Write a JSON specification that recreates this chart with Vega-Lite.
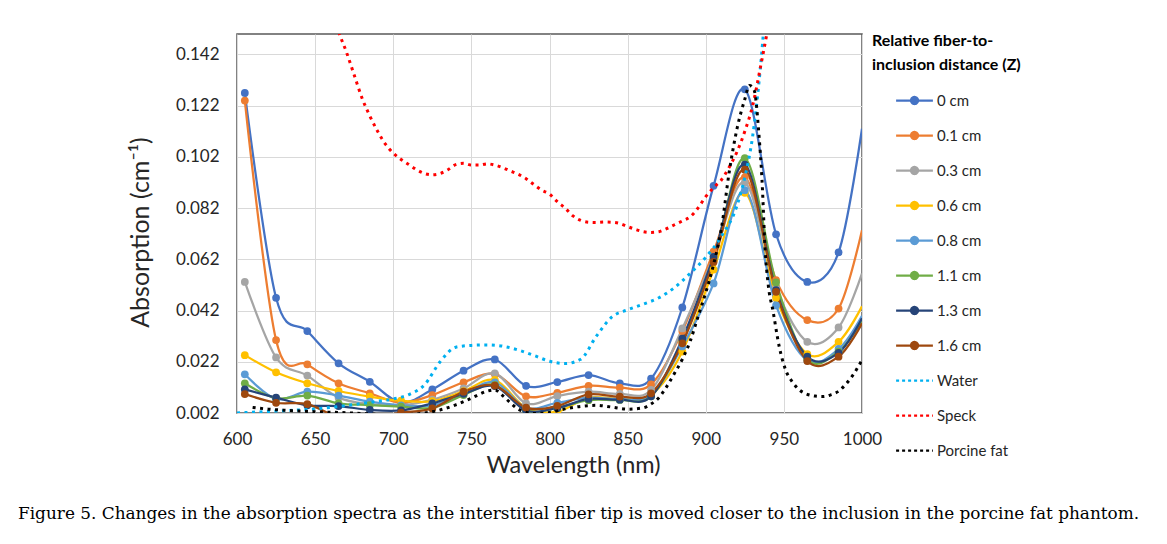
{
  "$schema": "https://vega.github.io/schema/vega-lite/v6.json",
  "width": 625,
  "height": 379,
  "autosize": {"type": "none"},
  "padding": {"left": 237, "top": 34, "right": 305, "bottom": 131},
  "background": "white",
  "config": {
    "view": {"stroke": "#595959", "strokeWidth": 1.5},
    "axis": {
      "labelFont": "Lato", "labelFontSize": 17, "labelColor": "#262626",
      "titleFont": "Lato", "titleFontSize": 23.5, "titleFontWeight": "normal", "titleColor": "#262626",
      "gridColor": "#D9D9D9", "gridWidth": 1, "domain": false, "ticks": false, "tickSize": 0, "labelFlush": false
    }
  },
  "title": {
    "text": "Figure 5. Changes in the absorption spectra as the interstitial fiber tip is moved closer to the inclusion in the porcine fat phantom.",
    "orient": "bottom", "anchor": "start", "frame": "group", "dx": -219, "offset": 29,
    "font": "DejaVu Serif", "fontSize": 16.9, "fontWeight": "normal", "color": "#000000"
  },
  "data": {"values": [
    {"s":"0 cm","w":605,"a":0.127},{"s":"0 cm","w":625,"a":0.047},{"s":"0 cm","w":645,"a":0.034},{"s":"0 cm","w":665,"a":0.0214},{"s":"0 cm","w":685,"a":0.0142},{"s":"0 cm","w":705,"a":0.006},{"s":"0 cm","w":725,"a":0.0112},{"s":"0 cm","w":745,"a":0.0185},{"s":"0 cm","w":765,"a":0.0229},{"s":"0 cm","w":785,"a":0.0126},{"s":"0 cm","w":805,"a":0.0141},{"s":"0 cm","w":825,"a":0.0168},{"s":"0 cm","w":845,"a":0.0136},{"s":"0 cm","w":865,"a":0.0154},{"s":"0 cm","w":885,"a":0.0432},{"s":"0 cm","w":905,"a":0.0907},{"s":"0 cm","w":925,"a":0.1284},{"s":"0 cm","w":945,"a":0.0718},{"s":"0 cm","w":965,"a":0.0532},{"s":"0 cm","w":985,"a":0.0647},{"s":"0 cm","w":1000,"a":0.113},
    {"s":"0.1 cm","w":605,"a":0.124},{"s":"0.1 cm","w":625,"a":0.0305},{"s":"0.1 cm","w":645,"a":0.021},{"s":"0.1 cm","w":665,"a":0.0136},{"s":"0.1 cm","w":685,"a":0.0097},{"s":"0.1 cm","w":705,"a":0.006},{"s":"0.1 cm","w":725,"a":0.009},{"s":"0.1 cm","w":745,"a":0.014},{"s":"0.1 cm","w":765,"a":0.0172},{"s":"0.1 cm","w":785,"a":0.0085},{"s":"0.1 cm","w":805,"a":0.0099},{"s":"0.1 cm","w":825,"a":0.0126},{"s":"0.1 cm","w":845,"a":0.0119},{"s":"0.1 cm","w":865,"a":0.0132},{"s":"0.1 cm","w":885,"a":0.034},{"s":"0.1 cm","w":905,"a":0.065},{"s":"0.1 cm","w":925,"a":0.094},{"s":"0.1 cm","w":945,"a":0.0539},{"s":"0.1 cm","w":965,"a":0.0383},{"s":"0.1 cm","w":985,"a":0.0428},{"s":"0.1 cm","w":1000,"a":0.0734},
    {"s":"0.3 cm","w":605,"a":0.0532},{"s":"0.3 cm","w":625,"a":0.0237},{"s":"0.3 cm","w":645,"a":0.0166},{"s":"0.3 cm","w":665,"a":0.008},{"s":"0.3 cm","w":685,"a":0.0055},{"s":"0.3 cm","w":705,"a":0.005},{"s":"0.3 cm","w":725,"a":0.0072},{"s":"0.3 cm","w":745,"a":0.0116},{"s":"0.3 cm","w":765,"a":0.0175},{"s":"0.3 cm","w":785,"a":0.0058},{"s":"0.3 cm","w":805,"a":0.0086},{"s":"0.3 cm","w":825,"a":0.0103},{"s":"0.3 cm","w":845,"a":0.0095},{"s":"0.3 cm","w":865,"a":0.011},{"s":"0.3 cm","w":885,"a":0.035},{"s":"0.3 cm","w":905,"a":0.063},{"s":"0.3 cm","w":925,"a":0.092},{"s":"0.3 cm","w":945,"a":0.051},{"s":"0.3 cm","w":965,"a":0.0298},{"s":"0.3 cm","w":985,"a":0.0354},{"s":"0.3 cm","w":1000,"a":0.0565},
    {"s":"0.6 cm","w":605,"a":0.0246},{"s":"0.6 cm","w":625,"a":0.0179},{"s":"0.6 cm","w":645,"a":0.0136},{"s":"0.6 cm","w":665,"a":0.0106},{"s":"0.6 cm","w":685,"a":0.0084},{"s":"0.6 cm","w":705,"a":0.0068},{"s":"0.6 cm","w":725,"a":0.0066},{"s":"0.6 cm","w":745,"a":0.0105},{"s":"0.6 cm","w":765,"a":0.0149},{"s":"0.6 cm","w":785,"a":0.004},{"s":"0.6 cm","w":805,"a":0.0025},{"s":"0.6 cm","w":825,"a":0.008},{"s":"0.6 cm","w":845,"a":0.0075},{"s":"0.6 cm","w":865,"a":0.009},{"s":"0.6 cm","w":885,"a":0.026},{"s":"0.6 cm","w":905,"a":0.058},{"s":"0.6 cm","w":925,"a":0.088},{"s":"0.6 cm","w":945,"a":0.047},{"s":"0.6 cm","w":965,"a":0.025},{"s":"0.6 cm","w":985,"a":0.0298},{"s":"0.6 cm","w":1000,"a":0.0437},
    {"s":"0.8 cm","w":605,"a":0.0171},{"s":"0.8 cm","w":625,"a":0.0075},{"s":"0.8 cm","w":645,"a":0.0103},{"s":"0.8 cm","w":665,"a":0.0088},{"s":"0.8 cm","w":685,"a":0.0064},{"s":"0.8 cm","w":705,"a":0.005},{"s":"0.8 cm","w":725,"a":0.005},{"s":"0.8 cm","w":745,"a":0.0095},{"s":"0.8 cm","w":765,"a":0.014},{"s":"0.8 cm","w":785,"a":0.004},{"s":"0.8 cm","w":805,"a":0.006},{"s":"0.8 cm","w":825,"a":0.008},{"s":"0.8 cm","w":845,"a":0.0075},{"s":"0.8 cm","w":865,"a":0.009},{"s":"0.8 cm","w":885,"a":0.028},{"s":"0.8 cm","w":905,"a":0.0526},{"s":"0.8 cm","w":925,"a":0.089},{"s":"0.8 cm","w":945,"a":0.044},{"s":"0.8 cm","w":965,"a":0.0225},{"s":"0.8 cm","w":985,"a":0.027},{"s":"0.8 cm","w":1000,"a":0.04},
    {"s":"1.1 cm","w":605,"a":0.0136},{"s":"1.1 cm","w":625,"a":0.0078},{"s":"1.1 cm","w":645,"a":0.0088},{"s":"1.1 cm","w":665,"a":0.0058},{"s":"1.1 cm","w":685,"a":0.0051},{"s":"1.1 cm","w":705,"a":0.0045},{"s":"1.1 cm","w":725,"a":0.004},{"s":"1.1 cm","w":745,"a":0.009},{"s":"1.1 cm","w":765,"a":0.013},{"s":"1.1 cm","w":785,"a":0.003},{"s":"1.1 cm","w":805,"a":0.004},{"s":"1.1 cm","w":825,"a":0.007},{"s":"1.1 cm","w":845,"a":0.0071},{"s":"1.1 cm","w":865,"a":0.0085},{"s":"1.1 cm","w":885,"a":0.03},{"s":"1.1 cm","w":905,"a":0.062},{"s":"1.1 cm","w":925,"a":0.1015},{"s":"1.1 cm","w":945,"a":0.053},{"s":"1.1 cm","w":965,"a":0.023},{"s":"1.1 cm","w":985,"a":0.026},{"s":"1.1 cm","w":1000,"a":0.038},
    {"s":"1.3 cm","w":605,"a":0.0112},{"s":"1.3 cm","w":625,"a":0.008},{"s":"1.3 cm","w":645,"a":0.005},{"s":"1.3 cm","w":665,"a":0.0047},{"s":"1.3 cm","w":685,"a":0.0032},{"s":"1.3 cm","w":705,"a":0.003},{"s":"1.3 cm","w":725,"a":0.0058},{"s":"1.3 cm","w":745,"a":0.0095},{"s":"1.3 cm","w":765,"a":0.0125},{"s":"1.3 cm","w":785,"a":0.003},{"s":"1.3 cm","w":805,"a":0.004},{"s":"1.3 cm","w":825,"a":0.0075},{"s":"1.3 cm","w":845,"a":0.0072},{"s":"1.3 cm","w":865,"a":0.0085},{"s":"1.3 cm","w":885,"a":0.031},{"s":"1.3 cm","w":905,"a":0.063},{"s":"1.3 cm","w":925,"a":0.099},{"s":"1.3 cm","w":945,"a":0.05},{"s":"1.3 cm","w":965,"a":0.024},{"s":"1.3 cm","w":985,"a":0.0255},{"s":"1.3 cm","w":1000,"a":0.039},
    {"s":"1.6 cm","w":605,"a":0.0094},{"s":"1.6 cm","w":625,"a":0.006},{"s":"1.6 cm","w":645,"a":0.0055},{"s":"1.6 cm","w":665,"a":0.0005},{"s":"1.6 cm","w":685,"a":0.0003},{"s":"1.6 cm","w":705,"a":0.0021},{"s":"1.6 cm","w":725,"a":0.0038},{"s":"1.6 cm","w":745,"a":0.0103},{"s":"1.6 cm","w":765,"a":0.0127},{"s":"1.6 cm","w":785,"a":0.0041},{"s":"1.6 cm","w":805,"a":0.0048},{"s":"1.6 cm","w":825,"a":0.0093},{"s":"1.6 cm","w":845,"a":0.0084},{"s":"1.6 cm","w":865,"a":0.0097},{"s":"1.6 cm","w":885,"a":0.0292},{"s":"1.6 cm","w":905,"a":0.061},{"s":"1.6 cm","w":925,"a":0.097},{"s":"1.6 cm","w":945,"a":0.0493},{"s":"1.6 cm","w":965,"a":0.0223},{"s":"1.6 cm","w":985,"a":0.024},{"s":"1.6 cm","w":1000,"a":0.037},
    {"s":"Water","w":600,"a":0.002},{"s":"Water","w":610,"a":0.0023},{"s":"Water","w":620,"a":0.0026},{"s":"Water","w":630,"a":0.0029},{"s":"Water","w":640,"a":0.0032},{"s":"Water","w":650,"a":0.0036},{"s":"Water","w":660,"a":0.0042},{"s":"Water","w":670,"a":0.0049},{"s":"Water","w":680,"a":0.0057},{"s":"Water","w":690,"a":0.0066},{"s":"Water","w":700,"a":0.0075},{"s":"Water","w":710,"a":0.0092},{"s":"Water","w":720,"a":0.013},{"s":"Water","w":730,"a":0.022},{"s":"Water","w":740,"a":0.0277},{"s":"Water","w":750,"a":0.0284},{"s":"Water","w":760,"a":0.0286},{"s":"Water","w":770,"a":0.0281},{"s":"Water","w":780,"a":0.0266},{"s":"Water","w":790,"a":0.0245},{"s":"Water","w":800,"a":0.0222},{"s":"Water","w":810,"a":0.0213},{"s":"Water","w":820,"a":0.023},{"s":"Water","w":830,"a":0.032},{"s":"Water","w":840,"a":0.0395},{"s":"Water","w":850,"a":0.0423},{"s":"Water","w":860,"a":0.0445},{"s":"Water","w":870,"a":0.047},{"s":"Water","w":880,"a":0.051},{"s":"Water","w":890,"a":0.0565},{"s":"Water","w":900,"a":0.0628},{"s":"Water","w":910,"a":0.071},{"s":"Water","w":920,"a":0.083},{"s":"Water","w":925,"a":0.094},{"s":"Water","w":930,"a":0.11},{"s":"Water","w":935,"a":0.137},{"s":"Water","w":940,"a":0.175},
    {"s":"Speck","w":660,"a":0.162},{"s":"Speck","w":665,"a":0.151},{"s":"Speck","w":670,"a":0.143},{"s":"Speck","w":675,"a":0.134},{"s":"Speck","w":680,"a":0.125},{"s":"Speck","w":685,"a":0.118},{"s":"Speck","w":690,"a":0.112},{"s":"Speck","w":695,"a":0.107},{"s":"Speck","w":700,"a":0.1035},{"s":"Speck","w":705,"a":0.101},{"s":"Speck","w":710,"a":0.099},{"s":"Speck","w":715,"a":0.097},{"s":"Speck","w":720,"a":0.0955},{"s":"Speck","w":725,"a":0.095},{"s":"Speck","w":730,"a":0.0955},{"s":"Speck","w":735,"a":0.097},{"s":"Speck","w":740,"a":0.099},{"s":"Speck","w":745,"a":0.0995},{"s":"Speck","w":750,"a":0.0988},{"s":"Speck","w":755,"a":0.0988},{"s":"Speck","w":760,"a":0.0993},{"s":"Speck","w":765,"a":0.0988},{"s":"Speck","w":770,"a":0.0978},{"s":"Speck","w":775,"a":0.0965},{"s":"Speck","w":780,"a":0.0952},{"s":"Speck","w":785,"a":0.0935},{"s":"Speck","w":790,"a":0.0912},{"s":"Speck","w":795,"a":0.089},{"s":"Speck","w":800,"a":0.0875},{"s":"Speck","w":805,"a":0.0845},{"s":"Speck","w":810,"a":0.082},{"s":"Speck","w":815,"a":0.079},{"s":"Speck","w":820,"a":0.0772},{"s":"Speck","w":825,"a":0.0765},{"s":"Speck","w":830,"a":0.0764},{"s":"Speck","w":835,"a":0.0766},{"s":"Speck","w":840,"a":0.0765},{"s":"Speck","w":845,"a":0.076},{"s":"Speck","w":850,"a":0.0748},{"s":"Speck","w":855,"a":0.0737},{"s":"Speck","w":860,"a":0.0728},{"s":"Speck","w":865,"a":0.0725},{"s":"Speck","w":870,"a":0.0728},{"s":"Speck","w":875,"a":0.074},{"s":"Speck","w":880,"a":0.0755},{"s":"Speck","w":885,"a":0.077},{"s":"Speck","w":890,"a":0.0786},{"s":"Speck","w":895,"a":0.082},{"s":"Speck","w":900,"a":0.0865},{"s":"Speck","w":905,"a":0.09},{"s":"Speck","w":910,"a":0.093},{"s":"Speck","w":915,"a":0.098},{"s":"Speck","w":920,"a":0.104},{"s":"Speck","w":925,"a":0.112},{"s":"Speck","w":930,"a":0.122},{"s":"Speck","w":935,"a":0.137},{"s":"Speck","w":940,"a":0.153},{"s":"Speck","w":945,"a":0.17},
    {"s":"Porcine fat","w":610,"a":0.0042},{"s":"Porcine fat","w":620,"a":0.0035},{"s":"Porcine fat","w":630,"a":0.0031},{"s":"Porcine fat","w":640,"a":0.0028},{"s":"Porcine fat","w":650,"a":0.0025},{"s":"Porcine fat","w":660,"a":0.0023},{"s":"Porcine fat","w":670,"a":0.0021},{"s":"Porcine fat","w":680,"a":0.0018},{"s":"Porcine fat","w":690,"a":0.0015},{"s":"Porcine fat","w":700,"a":0.0013},{"s":"Porcine fat","w":710,"a":0.0014},{"s":"Porcine fat","w":720,"a":0.002},{"s":"Porcine fat","w":730,"a":0.0032},{"s":"Porcine fat","w":740,"a":0.0052},{"s":"Porcine fat","w":750,"a":0.0078},{"s":"Porcine fat","w":760,"a":0.0105},{"s":"Porcine fat","w":765,"a":0.011},{"s":"Porcine fat","w":770,"a":0.0088},{"s":"Porcine fat","w":775,"a":0.006},{"s":"Porcine fat","w":780,"a":0.0035},{"s":"Porcine fat","w":790,"a":0.0018},{"s":"Porcine fat","w":800,"a":0.0022},{"s":"Porcine fat","w":810,"a":0.0036},{"s":"Porcine fat","w":820,"a":0.0046},{"s":"Porcine fat","w":830,"a":0.005},{"s":"Porcine fat","w":840,"a":0.0043},{"s":"Porcine fat","w":850,"a":0.0035},{"s":"Porcine fat","w":860,"a":0.004},{"s":"Porcine fat","w":865,"a":0.0055},{"s":"Porcine fat","w":870,"a":0.008},{"s":"Porcine fat","w":875,"a":0.0123},{"s":"Porcine fat","w":880,"a":0.0175},{"s":"Porcine fat","w":885,"a":0.023},{"s":"Porcine fat","w":890,"a":0.03},{"s":"Porcine fat","w":895,"a":0.0395},{"s":"Porcine fat","w":900,"a":0.049},{"s":"Porcine fat","w":905,"a":0.06},{"s":"Porcine fat","w":910,"a":0.074},{"s":"Porcine fat","w":915,"a":0.096},{"s":"Porcine fat","w":920,"a":0.113},{"s":"Porcine fat","w":925,"a":0.1245},{"s":"Porcine fat","w":928,"a":0.1299},{"s":"Porcine fat","w":931,"a":0.128},{"s":"Porcine fat","w":934,"a":0.111},{"s":"Porcine fat","w":936,"a":0.093},{"s":"Porcine fat","w":938,"a":0.066},{"s":"Porcine fat","w":940,"a":0.052},{"s":"Porcine fat","w":943,"a":0.042},{"s":"Porcine fat","w":947,"a":0.028},{"s":"Porcine fat","w":951,"a":0.019},{"s":"Porcine fat","w":955,"a":0.0145},{"s":"Porcine fat","w":960,"a":0.011},{"s":"Porcine fat","w":965,"a":0.0093},{"s":"Porcine fat","w":970,"a":0.0086},{"s":"Porcine fat","w":975,"a":0.0084},{"s":"Porcine fat","w":980,"a":0.0091},{"s":"Porcine fat","w":985,"a":0.0105},{"s":"Porcine fat","w":990,"a":0.0135},{"s":"Porcine fat","w":995,"a":0.0175},{"s":"Porcine fat","w":1000,"a":0.0227}
  ]},
  "encoding": {
    "x": {"field": "w", "type": "quantitative", "scale": {"domain": [600, 1000], "nice": false, "zero": false},
      "axis": {"title": "Wavelength (nm)", "values": [600, 650, 700, 750, 800, 850, 900, 950, 1000], "format": "d", "labelPadding": 18, "titlePadding": 6, "titleX": 336, "grid": true}},
    "y": {"field": "a", "type": "quantitative", "scale": {"domain": [0.002, 0.15], "nice": false, "zero": false},
      "axis": {"title": "Absorption (cm⁻¹)", "titleFontSize": 25, "values": [0.002, 0.022, 0.042, 0.062, 0.082, 0.102, 0.122, 0.142], "format": ".3f", "labelPadding": 18, "titlePadding": 22, "titleY": 198, "grid": true}},
    "color": {"field": "s", "type": "nominal", "sort": null,
      "scale": {"domain": ["0 cm","0.1 cm","0.3 cm","0.6 cm","0.8 cm","1.1 cm","1.3 cm","1.6 cm","Water","Speck","Porcine fat"],
                "range": ["#4472C4","#ED7D31","#A5A5A5","#FFC000","#5B9BD5","#70AD47","#264478","#9E480E","#00B0F0","#FF0000","#000000"]},
      "legend": {
        "title": ["Relative fiber-to-", "inclusion distance (Z)"],
        "orient": "none", "legendX": 635, "legendY": -1, "padding": 0,
        "titleFont": "Lato", "titleFontSize": 16, "titleFontWeight": "bold", "titleColor": "#000000", "titleLineHeight": 24, "titlePadding": 10,
        "labelFont": "Lato", "labelFontSize": 15, "labelColor": "#262626", "labelOffset": 5,
        "symbolSize": 1024, "symbolStrokeWidth": 2.25, "rowPadding": 9, "symbolOffset": 25,
        "encode": {"symbols": {"update": {
          "size": {"value": 1024},
          "shape": {"signal": "indexof(['Water','Speck','Porcine fat'], datum.value) >= 0 ? 'M-1.15,0L1.15,0' : 'M-1.15,0L1.15,0M-0.22,0A0.22,0.22,0,1,0,0.22,0A0.22,0.22,0,1,0,-0.22,0Z'"},
          "fill": {"signal": "indexof(['Water','Speck','Porcine fat'], datum.value) >= 0 ? 'transparent' : scale('color', datum.value)"},
          "stroke": {"signal": "scale('color', datum.value)"},
          "strokeDash": {"signal": "indexof(['Water','Speck','Porcine fat'], datum.value) >= 0 ? [3, 3] : [1, 0]"},
          "opacity": {"value": 1}
        }}}
      }
    }
  },
  "layer": [
    {
      "transform": [{"filter": {"field": "s", "oneOf": ["0 cm","0.1 cm","0.3 cm","0.6 cm","0.8 cm","1.1 cm","1.3 cm","1.6 cm"]}}],
      "mark": {"type": "line", "interpolate": "cardinal", "strokeWidth": 2.25, "clip": true}
    },
    {
      "transform": [{"filter": {"field": "s", "oneOf": ["0 cm","0.1 cm","0.3 cm","0.6 cm","0.8 cm","1.1 cm","1.3 cm","1.6 cm"]}}, {"filter": {"field": "w", "lte": 985}}],
      "mark": {"type": "point", "filled": true, "size": 60, "opacity": 1, "clip": true}
    },
    {
      "transform": [{"filter": {"field": "s", "oneOf": ["Water","Speck","Porcine fat"]}}],
      "mark": {"type": "line", "interpolate": "monotone", "strokeWidth": 3, "strokeDash": [3, 4.5], "clip": true}
    }
  ]
}
